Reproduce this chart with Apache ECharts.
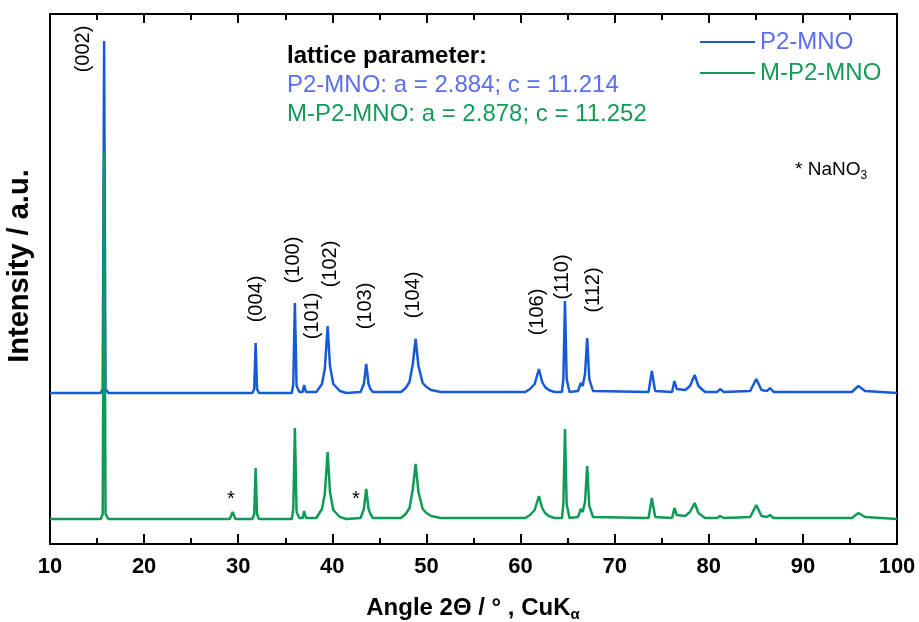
<!DOCTYPE html>
<html>
<head>
<meta charset="utf-8">
<script src="https://cdn.jsdelivr.net/npm/echarts@6/dist/echarts.min.js"></script>
<style>
  html, body { margin: 0; padding: 0; background: #fff; }
  #main { width: 919px; height: 622px; }
</style>
</head>
<body>
<div id="main"></div>
<script>
// angle 2theta (shared by both patterns)
var angle = [10, 15.4, 15.6, 15.75, 15.9, 16.2, 29.1, 29.4, 29.7, 31.5, 31.7, 31.85, 32.0, 32.2,
  35.7, 35.85, 36.02, 36.2, 36.5, 36.85, 37.0, 37.2, 38.3, 38.9, 39.2, 39.5, 39.75, 40.1, 40.8, 41.5,
  43.0, 43.35, 43.6, 43.85, 44.05, 44.3, 47.3, 47.8, 48.2, 48.55, 48.85, 49.15, 49.6, 50.0, 50.5, 51.5,
  60.5, 61.0, 61.5, 61.95, 62.3, 62.6, 63.0, 63.6,
  64.4, 64.55, 64.72, 64.9, 65.2, 66.1, 66.4, 66.6, 66.85, 67.08, 67.3, 67.7, 73.6, 73.95, 74.3,
  76.1, 76.35, 76.6, 77.5, 78.0, 78.5, 78.9, 79.6, 80.9, 81.2, 81.6, 84.4, 85.05, 85.6,
  86.2, 86.5, 86.9, 95.2, 95.9, 96.6, 100];

// P2-MNO (offset upwards)
var p2mno = [151, 151, 155, 503, 155, 151, 151, 151, 151, 151, 155, 201, 155, 151,
  151, 160, 241, 158, 152, 152, 159, 152, 152, 160, 175, 218, 178, 160, 153, 151,
  152, 160, 180, 160, 155, 152, 152, 156, 162, 180, 205, 178, 161, 157, 154, 152,
  152, 155, 160, 175, 162, 157, 154, 152,
  152, 165, 243, 165, 152, 153, 161, 158, 170, 206, 165, 153, 152, 173, 153,
  152, 163, 155, 154, 158, 169, 158, 152, 152, 155, 152, 153, 165, 154,
  153, 156, 152, 152, 158, 153, 151];

// M-P2-MNO
var mp2mno = [25, 25, 30, 392, 30, 25, 25, 32, 25, 25, 30, 76, 30, 25,
  25, 35, 116, 32, 26, 26, 33, 26, 26, 35, 50, 92, 52, 34, 27, 25,
  26, 35, 55, 35, 30, 26, 26, 30, 36, 55, 80, 52, 35, 31, 28, 26,
  26, 29, 34, 48, 36, 31, 28, 26,
  26, 40, 115, 40, 26, 27, 35, 32, 42, 78, 38, 27, 26, 46, 27,
  26, 36, 29, 28, 32, 41, 31, 26, 26, 28, 26, 27, 39, 28,
  27, 29, 26, 26, 31, 27, 25];

var seriesNames = ['P2-MNO', 'M-P2-MNO'];
var hklLabels = ['(002)', '(004)', '(100)', '(101)', '(102)', '(103)', '(104)', '(106)', '(110)', '(112)'];
var latticeLines = ['lattice parameter:', 'P2-MNO: a = 2.884; c = 11.214', 'M-P2-MNO: a = 2.878; c = 11.252'];

function pairs(xs, ys){
    var out = [];
    for(var i=0;i<xs.length;i++){
        out.push([xs[i], ys[i]]);
    }
    return out;
}

var FONT = 'Liberation Sans, Arial, sans-serif';
var BLUE = '#175ad6';
var GREEN = '#0f9a56';
var BLUE_TXT = '#5b6ef2';
var GREEN_TXT = '#159a58';

var myChart = echarts.init(document.getElementById('main'));

var option = {
    animation: false,
    backgroundColor: '#fff',
    grid: {
        left: 50, right: 22, top: 14, bottom: 78,
        show: true, borderColor: '#000', borderWidth: 2, backgroundColor: 'transparent'
    },
    legend: {
        orient: 'vertical',
        left: 695, top: 24,
        itemWidth: 55, itemHeight: 14, itemGap: 5,
        icon: 'path://M0,6 L55,6 L55,8 L0,8 Z',
        data: [
            {name: seriesNames[0], textStyle: {color: BLUE_TXT}},
            {name: seriesNames[1], textStyle: {color: GREEN_TXT}}
        ],
        textStyle: {fontFamily: FONT, fontSize: 24, lineHeight: 26, padding: [0, 0, 0, 0]}
    },
    xAxis: [{
        type: 'value', min: 10, max: 100, interval: 10,
        axisLine: {show: true, lineStyle: {color: '#000', width: 2}},
        axisTick: {show: true, inside: true, length: 10, lineStyle: {color: '#000', width: 2}},
        minorTick: {show: true, splitNumber: 2, length: 6, lineStyle: {color: '#000', width: 2}},
        axisLabel: {color: '#000', fontFamily: FONT, fontSize: 22, fontWeight: 'bold', margin: 12},
        splitLine: {show: false}
    }, {
        type: 'value', min: 10, max: 100, interval: 10, position: 'top',
        axisLine: {show: true, lineStyle: {color: '#000', width: 2}},
        axisTick: {show: true, inside: true, length: 9, lineStyle: {color: '#000', width: 2}},
        minorTick: {show: true, splitNumber: 2, length: 6, lineStyle: {color: '#000', width: 2}},
        axisLabel: {show: false},
        splitLine: {show: false}
    }],
    yAxis: {
        type: 'value', min: 0, max: 530,
        axisLine: {show: true, lineStyle: {color: '#000', width: 2}},
        axisTick: {show: false},
        axisLabel: {show: false},
        splitLine: {show: false}
    },
    series: [{
        name: seriesNames[0],
        type: 'line',
        data: pairs(angle, p2mno),
        symbol: 'none',
        color: BLUE,
        lineStyle: {color: BLUE, width: 2.5}
    }, {
        name: seriesNames[1],
        type: 'line',
        data: pairs(angle, mp2mno),
        symbol: 'none',
        color: GREEN,
        lineStyle: {color: GREEN, width: 2.5}
    }]
};

myChart.setOption(option);

// text annotations (pixel layout)
var hklPos = [[83, 49], [256, 299], [293, 260], [312, 316], [330, 264], [365, 306], [413, 295], [537, 312], [562, 277], [593, 290]];
var graphics = [];
hklLabels.forEach(function(t, i){
    graphics.push({
        type: 'text', x: hklPos[i][0], y: hklPos[i][1], rotation: Math.PI / 2,
        style: {text: t, fontFamily: FONT, fontSize: 20, fill: '#000', align: 'center', verticalAlign: 'middle'}
    });
});
// asterisks for NaNO3 reflections
[[231, 499], [356, 499]].forEach(function(p){
    graphics.push({
        type: 'text', x: p[0], y: p[1],
        style: {text: '*', fontFamily: FONT, fontSize: 20, fill: '#000', align: 'center', verticalAlign: 'middle'}
    });
});
var latCol = ['#000', BLUE_TXT, GREEN_TXT];
var latY = [56, 85, 114];
latticeLines.forEach(function(t, i){
    graphics.push({
        type: 'text', x: 287, y: latY[i],
        style: {text: t, fontFamily: FONT, fontSize: 24, fontWeight: i === 0 ? 'bold' : 'normal',
            fill: latCol[i], align: 'left', verticalAlign: 'middle'}
    });
});
graphics.push({
    type: 'text', x: 795, y: 170,
    style: {
        text: '{n|* NaNO}{s|3}', align: 'left', verticalAlign: 'middle',
        rich: {
            n: {fontFamily: FONT, fontSize: 19, fill: '#000', color: '#000'},
            s: {fontFamily: FONT, fontSize: 12, fill: '#000', color: '#000', padding: [12, 0, 0, 0]}
        }
    }
});
graphics.push({
    type: 'text', x: 473, y: 608,
    style: {
        text: '{b|Angle 2Θ / ° , CuK}{s|α}', align: 'center', verticalAlign: 'middle',
        rich: {
            b: {fontFamily: FONT, fontSize: 24, fontWeight: 'bold', fill: '#000', color: '#000'},
            s: {fontFamily: FONT, fontSize: 15, fontWeight: 'bold', fill: '#000', color: '#000', padding: [14, 0, 0, 0]}
        }
    }
});
graphics.push({
    type: 'text', x: 20, y: 266, rotation: Math.PI / 2,
    style: {text: 'Intensity / a.u.', fontFamily: FONT, fontSize: 29, fontWeight: 'bold', fill: '#000',
        align: 'center', verticalAlign: 'middle'}
});

myChart.setOption({graphic: graphics});
</script>
</body>
</html>
